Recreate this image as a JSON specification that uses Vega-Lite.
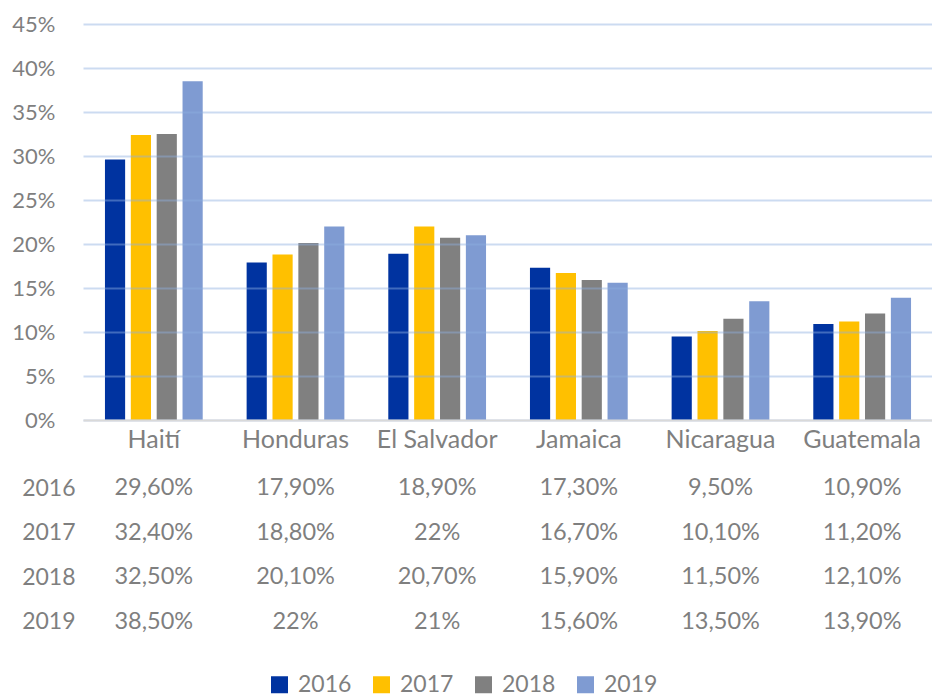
{
  "$schema": "https://vega.github.io/schema/vega-lite/v6.json",
  "padding": {"left": 11, "top": 13, "right": 0, "bottom": 0},
  "background": "white",
  "config": {
    "view": {"stroke": null},
    "font": "Lato",
    "axis": {"labelColor": "#7f7f7f", "labelFont": "Lato", "labelFontSize": 22, "titleColor": "#7f7f7f"},
    "legend": {"labelColor": "#7f7f7f", "labelFont": "Lato", "labelFontSize": 23}
  },
  "data": {
    "values": [
      {"country": "Haití", "year": "2016", "value": 0.296, "label": "29,60%"},
      {"country": "Haití", "year": "2017", "value": 0.324, "label": "32,40%"},
      {"country": "Haití", "year": "2018", "value": 0.325, "label": "32,50%"},
      {"country": "Haití", "year": "2019", "value": 0.385, "label": "38,50%"},
      {"country": "Honduras", "year": "2016", "value": 0.179, "label": "17,90%"},
      {"country": "Honduras", "year": "2017", "value": 0.188, "label": "18,80%"},
      {"country": "Honduras", "year": "2018", "value": 0.201, "label": "20,10%"},
      {"country": "Honduras", "year": "2019", "value": 0.22, "label": "22%"},
      {"country": "El Salvador", "year": "2016", "value": 0.189, "label": "18,90%"},
      {"country": "El Salvador", "year": "2017", "value": 0.22, "label": "22%"},
      {"country": "El Salvador", "year": "2018", "value": 0.207, "label": "20,70%"},
      {"country": "El Salvador", "year": "2019", "value": 0.21, "label": "21%"},
      {"country": "Jamaica", "year": "2016", "value": 0.173, "label": "17,30%"},
      {"country": "Jamaica", "year": "2017", "value": 0.167, "label": "16,70%"},
      {"country": "Jamaica", "year": "2018", "value": 0.159, "label": "15,90%"},
      {"country": "Jamaica", "year": "2019", "value": 0.156, "label": "15,60%"},
      {"country": "Nicaragua", "year": "2016", "value": 0.095, "label": "9,50%"},
      {"country": "Nicaragua", "year": "2017", "value": 0.101, "label": "10,10%"},
      {"country": "Nicaragua", "year": "2018", "value": 0.115, "label": "11,50%"},
      {"country": "Nicaragua", "year": "2019", "value": 0.135, "label": "13,50%"},
      {"country": "Guatemala", "year": "2016", "value": 0.109, "label": "10,90%"},
      {"country": "Guatemala", "year": "2017", "value": 0.112, "label": "11,20%"},
      {"country": "Guatemala", "year": "2018", "value": 0.121, "label": "12,10%"},
      {"country": "Guatemala", "year": "2019", "value": 0.139, "label": "13,90%"}
    ]
  },
  "spacing": 14,
  "resolve": {"scale": {"x": "independent", "y": "independent", "color": "shared"}},
  "vconcat": [
    {
      "width": 850,
      "height": 396,
      "mark": {"type": "bar"},
      "encoding": {
        "x": {
          "field": "country", "type": "nominal", "sort": null,
          "scale": {"paddingInner": 0.31, "paddingOuter": 0.155},
          "axis": {"title": null, "labelAngle": 0, "ticks": false, "domainColor": "#d9d9d9", "domainWidth": 2, "labelPadding": 7, "labelFontSize": 25, "zindex": 2}
        },
        "xOffset": {"field": "year", "type": "nominal", "scale": {"paddingInner": 0.22}},
        "y": {
          "field": "value", "type": "quantitative",
          "scale": {"domain": [0, 0.45], "nice": false},
          "axis": {"title": null, "format": ".0%", "values": [0, 0.05, 0.1, 0.15, 0.2, 0.25, 0.3, 0.35, 0.4, 0.45], "domain": false, "ticks": false, "labelPadding": 28, "gridColor": "#8fb0e0", "gridOpacity": 0.45, "gridWidth": 2, "zindex": 1}
        },
        "color": {
          "field": "year", "type": "nominal",
          "scale": {"domain": ["2016", "2017", "2018", "2019"], "range": ["#0033a0", "#ffc000", "#808080", "#7f9bd2"]},
          "legend": {"title": null, "orient": "none", "direction": "horizontal", "legendX": 185, "legendY": 649, "symbolType": "square", "symbolSize": 289, "symbolStrokeWidth": 0, "labelOffset": 7, "columnPadding": 18}
        }
      }
    },
    {
      "width": 850,
      "height": 178,
      "mark": {"type": "text", "fontSize": 23.5, "color": "#7f7f7f", "font": "Lato"},
      "encoding": {
        "x": {
          "field": "country", "type": "nominal", "sort": null,
          "scale": {"paddingInner": 0.31, "paddingOuter": 0.155},
          "axis": null
        },
        "y": {
          "field": "year", "type": "ordinal",
          "axis": {"title": null, "domain": false, "ticks": false, "labelPadding": 8, "labelFontSize": 23, "grid": false}
        },
        "text": {"field": "label", "type": "nominal"}
      }
    }
  ]
}
